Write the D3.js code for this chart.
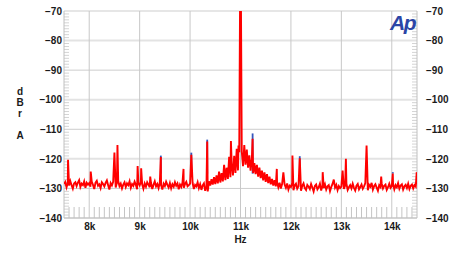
<!DOCTYPE html>
<html>
<head>
<meta charset="utf-8">
<script src="https://cdn.jsdelivr.net/npm/d3@7"></script>
<style>
  body { margin: 0; background: #fff; }
  text { font-family: "Liberation Sans", Arial, sans-serif; fill: #1a1a1a; }
</style>
</head>
<body>
<div id="chart"></div>
<script>
'use strict';

const WIDTH = 450;
const HEIGHT = 255;

// FFT bin grid (Hz)
const binStep = 25;
const segmentStarts = [7500, 8000, 9000, 10000, 11000, 12000, 13000, 14000];

// noise floor, dBr A, one array per kHz
const floor7 = [-128.5, -127.8, -129.6, -128.2, -129.0, -127.5, -128.9, -130.1, -128.3, -127.9,
  -129.2, -128.0, -127.2, -129.5, -128.4, -128.9, -127.6, -129.8, -128.1, -128.7];
const floor8 = [-128.2, -129.4, -127.7, -128.8, -130.2, -128.0, -127.4, -129.1, -128.6, -129.9,
  -127.9, -128.5, -129.3, -128.1, -127.3, -128.9, -130.4, -128.2, -129.0, -127.8,
  -128.6, -129.7, -128.0, -127.5, -129.2, -128.4, -130.0, -128.7, -127.9, -129.5,
  -128.3, -128.9, -127.6, -129.8, -128.5, -129.1, -127.7, -128.8, -130.3, -128.2];
const floor9 = [-129.0, -127.8, -128.6, -130.1, -128.3, -129.4, -127.9, -128.7, -129.6, -128.1,
  -130.2, -128.8, -127.6, -129.3, -128.5, -129.9, -128.0, -128.9, -130.4, -128.4,
  -129.2, -127.7, -128.8, -129.7, -128.2, -130.0, -128.6, -129.4, -127.9, -129.1,
  -128.3, -130.3, -128.7, -129.5, -128.0, -129.8, -128.5, -127.8, -129.3, -128.9];
const floor10 = [-128.4, -129.6, -128.1, -130.2, -128.8, -129.3, -127.9, -129.9, -128.6, -130.5,
  -129.0, -128.3, -130.8, -129.4, -131.0, -127.6, -129.0, -126.9, -128.7, -126.2,
  -128.5, -125.6, -128.3, -124.3, -128.0, -124.8, -127.6, -122.0, -127.2, -123.0,
  -126.8, -119.3, -126.2, -121.5, -125.6, -119.0, -124.8, -116.6, -123.9, -117.8];
const floor11 = [-123.0, -117.5, -122.5, -115.3, -122.0, -116.9, -123.0, -118.8, -124.0, -120.0,
  -124.8, -121.4, -125.2, -122.0, -126.0, -123.0, -126.5, -124.0, -127.3, -124.6,
  -127.8, -125.2, -128.2, -126.0, -128.6, -126.8, -129.0, -127.2, -129.3, -127.9,
  -129.6, -128.1, -130.0, -128.5, -130.2, -128.7, -129.8, -128.3, -130.4, -129.1];
const floor12 = [-129.5, -128.2, -130.6, -129.0, -128.4, -130.1, -129.3, -128.6, -130.8, -129.1,
  -128.3, -129.9, -130.5, -128.8, -129.4, -130.2, -128.5, -129.7, -131.0, -129.2,
  -128.7, -130.3, -129.6, -128.4, -130.7, -129.0, -129.8, -128.6, -130.4, -129.3,
  -128.9, -130.9, -129.5, -128.5, -130.1, -129.7, -128.8, -130.6, -129.2, -129.9];
const floor13 = [-129.4, -128.6, -130.2, -129.0, -128.3, -130.5, -129.6, -128.9, -130.0, -128.4,
  -129.8, -130.7, -129.1, -128.5, -130.3, -129.5, -128.7, -130.1, -129.3, -128.2,
  -129.9, -130.6, -128.8, -129.4, -128.1, -130.4, -129.2, -128.6, -129.7, -130.8,
  -128.9, -129.5, -128.3, -130.0, -129.1, -128.7, -130.5, -129.6, -128.4, -129.8];
const floor14 = [-129.2, -128.5, -130.3, -128.9, -129.6, -128.2, -130.1, -129.0, -128.6, -130.4,
  -129.3, -128.8, -129.9, -128.4, -130.2, -129.1, -128.7, -130.0, -128.9, -129.4, -128.6];
const floorSegments = [floor7, floor8, floor9, floor10, floor11, floor12, floor13, floor14];

// discrete tones on the red (left) channel: [Hz, dBr A]
const redSpikes = [
  [7580, -120.3], [8030, -124.3], [8500, -117.9], [8560, -115.3], [8960, -122.4],
  [9030, -123.2], [9210, -126.0], [9420, -119.4], [9870, -123.4], [10025, -118.6],
  [10340, -114.1], [10810, -114.0], [10960, -115.5], [11000, -40], [11240, -113.2],
  [11720, -123.4], [11850, -124.6], [12030, -118.9], [12175, -119.8], [12630, -124.5],
  [12850, -127.0], [13025, -124.0], [13090, -120.0], [13500, -115.5], [13790, -126.0],
  [14020, -125.0], [14495, -124.5]
];

// blue channel tones that poke above the red trace
const blueSpikes = [
  [9420, -118.9], [10025, -117.9], [10340, -113.5], [11240, -111.4], [12175, -119.1], [14020, -124.5]
];

const xTicks = [8000, 9000, 10000, 11000, 12000, 13000, 14000];
const yTicks = [-140, -130, -120, -110, -100, -90, -80, -70];

const plot = { left: 64, right: 417, top: 11, bottom: 218 };

const x = d3.scaleLinear().domain([7500, 14500]).range([plot.left, plot.right]);
const y = d3.scaleLinear().domain([-140, -70]).range([plot.bottom, plot.top]);

const svg = d3.select('#chart').append('svg')
  .attr('width', WIDTH)
  .attr('height', HEIGHT);

svg.append('defs').append('clipPath').attr('id', 'clip')
  .append('rect')
  .attr('x', plot.left).attr('y', plot.top)
  .attr('width', plot.right - plot.left)
  .attr('height', plot.bottom - plot.top);

// horizontal grid
svg.append('g').selectAll('line')
  .data(yTicks)
  .enter().append('line')
  .attr('x1', plot.left).attr('x2', plot.right)
  .attr('y1', d => y(d)).attr('y2', d => y(d))
  .attr('stroke', d => (d % 20 === 0 && d !== -140) ? '#e3e3e3' : '#cdcdcd')
  .attr('stroke-width', d => (d % 20 === 0 && d !== -140) ? 2 : 1);

// vertical grid
svg.append('g').selectAll('line')
  .data(xTicks)
  .enter().append('line')
  .attr('x1', d => x(d)).attr('x2', d => x(d))
  .attr('y1', plot.top).attr('y2', plot.bottom)
  .attr('stroke', '#c8c8c8');

// minor ticks: bottom every 100 Hz, sides every 1 dB
svg.append('g').selectAll('line')
  .data(d3.range(7600, 14500, 100).filter(f => f % 1000 !== 0))
  .enter().append('line')
  .attr('x1', d => x(d)).attr('x2', d => x(d))
  .attr('y1', plot.bottom - 11).attr('y2', plot.bottom)
  .attr('stroke', '#c4c4c4');

const minorDb = d3.range(-139, -70, 1).filter(v => v % 10 !== 0);
svg.append('g').selectAll('line')
  .data(minorDb)
  .enter().append('line')
  .attr('x1', plot.left).attr('x2', plot.left + 5)
  .attr('y1', d => y(d)).attr('y2', d => y(d))
  .attr('stroke', '#d4d4d4');
svg.append('g').selectAll('line')
  .data(minorDb)
  .enter().append('line')
  .attr('x1', plot.right - 5).attr('x2', plot.right)
  .attr('y1', d => y(d)).attr('y2', d => y(d))
  .attr('stroke', '#d4d4d4');

// frame
svg.append('line').attr('x1', plot.left).attr('x2', plot.left)
  .attr('y1', plot.top).attr('y2', plot.bottom).attr('stroke', '#c0c0c0');
svg.append('line').attr('x1', plot.right).attr('x2', plot.right)
  .attr('y1', plot.top).attr('y2', plot.bottom).attr('stroke', '#c0c0c0');
svg.append('line').attr('x1', plot.left).attr('x2', plot.right)
  .attr('y1', plot.bottom).attr('y2', plot.bottom).attr('stroke', '#c0c0c0');

// axes labels
const xAxis = svg.append('g')
  .attr('transform', 'translate(0,' + plot.bottom + ')')
  .call(d3.axisBottom(x).tickValues(xTicks).tickSize(0).tickPadding(5)
    .tickFormat(d => (d / 1000) + 'k'));
const yAxisL = svg.append('g')
  .attr('transform', 'translate(' + (plot.left - 2) + ',0)')
  .call(d3.axisLeft(y).tickValues(yTicks).tickSize(0).tickPadding(0));
const yAxisR = svg.append('g')
  .attr('transform', 'translate(' + (plot.right + 9) + ',0)')
  .call(d3.axisRight(y).tickValues(yTicks).tickSize(0).tickPadding(0));

[xAxis, yAxisL, yAxisR].forEach(g => {
  g.select('.domain').remove();
  g.selectAll('text')
    .style('font-family', '"Liberation Sans", Arial, sans-serif')
    .style('font-size', '10px')
    .style('font-weight', 'bold')
    .attr('fill', '#222');
});

svg.append('text')
  .attr('x', x(11000)).attr('y', 243)
  .attr('text-anchor', 'middle')
  .style('font-size', '10px')
  .style('font-weight', 'bold')
  .text('Hz');

svg.append('text')
  .attr('text-anchor', 'middle')
  .style('font-size', '10px')
  .style('font-weight', 'bold')
  .selectAll('tspan')
  .data(['d', 'B', 'r', '', 'A'])
  .enter().append('tspan')
  .attr('x', 20)
  .attr('y', (d, i) => 95 + i * 11)
  .text(d => d);

// Ap logo
svg.append('text')
  .attr('x', 415).attr('y', 30)
  .attr('text-anchor', 'end')
  .style('font-size', '21px')
  .style('font-style', 'italic')
  .style('font-weight', 'bold')
  .style('letter-spacing', '-1.5px')
  .style('fill', '#2b45a6')
  .text('Ap');

// build the red trace: floor bins plus tones, sorted by frequency
const bins = new Map();
floorSegments.forEach((seg, s) => {
  seg.forEach((v, i) => bins.set(segmentStarts[s] + i * binStep, v));
});
redSpikes.forEach(d => bins.set(d[0], d[1]));
const redTrace = Array.from(bins.entries()).sort((a, b) => a[0] - b[0]);

const line = d3.line().x(d => x(d[0])).y(d => y(d[1]));

const traces = svg.append('g').attr('clip-path', 'url(#clip)');

traces.selectAll('line.blue')
  .data(blueSpikes)
  .enter().append('line')
  .attr('class', 'blue')
  .attr('x1', d => x(d[0])).attr('x2', d => x(d[0]))
  .attr('y1', y(-125)).attr('y2', d => y(d[1]))
  .attr('stroke', '#3355bb')
  .attr('stroke-width', 1.8);

traces.append('path')
  .datum(redTrace)
  .attr('fill', 'none')
  .attr('stroke', '#ff0000')
  .attr('stroke-width', 1.9)
  .attr('stroke-linejoin', 'miter')
  .attr('d', line);
</script>
</body>
</html>
